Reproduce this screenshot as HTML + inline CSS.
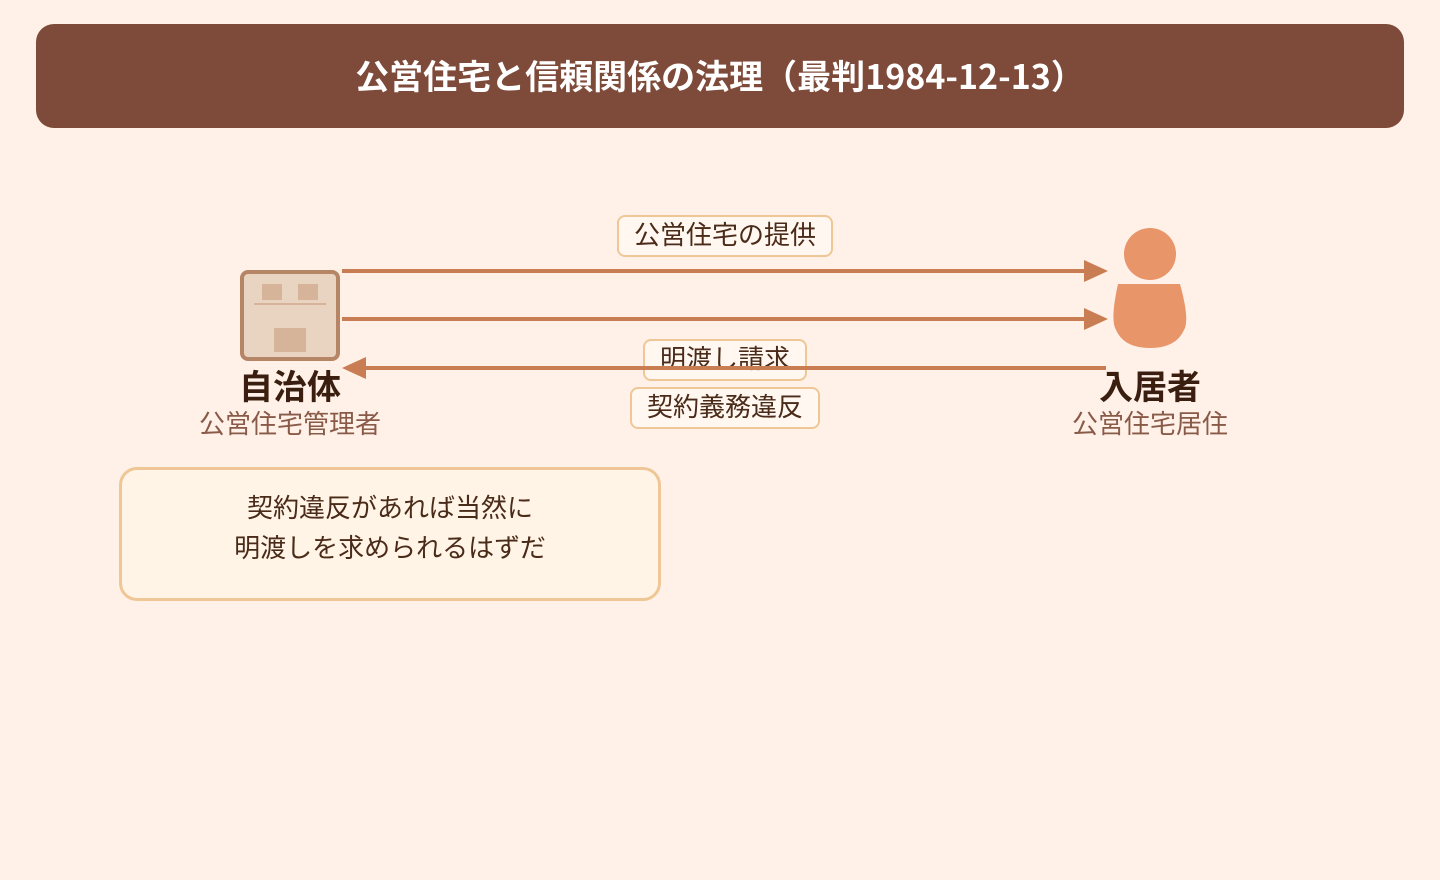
<!DOCTYPE html>
<html><head><meta charset="utf-8"><style>
body{margin:0;width:1440px;height:880px;background:#fff1e8;font-family:"Liberation Sans","Noto Sans CJK JP",sans-serif;position:relative;overflow:hidden}
.a{position:absolute}
.lbl{position:absolute;background:#fff7f0;border:2px solid #efc797;border-radius:8px;font-size:26px;color:#4a2a18;text-align:center;box-sizing:border-box;line-height:36px}
</style></head><body>
<div class="a" style="left:36px;top:24px;width:1368px;height:104px;background:#7e4a39;border-radius:18px;color:#fff;font-size:34px;font-weight:bold;text-align:center;line-height:102px;font-family:'Noto Sans CJK JP',sans-serif">公営住宅と信頼関係の法理（最判1984-12-13）</div>
<svg class="a" style="left:0;top:0" width="1440" height="880">
<rect x="242" y="272" width="96" height="87" rx="6" fill="#e8d4c0" stroke="#b58566" stroke-width="4"/>
<rect x="262" y="284" width="20" height="16" fill="#d5b49a"/><rect x="298" y="284" width="20" height="16" fill="#d5b49a"/>
<line x1="254" y1="304" x2="326" y2="304" stroke="#d5b49a" stroke-width="2"/>
<rect x="274" y="328" width="32" height="24" fill="#d5b49a"/>
<g stroke="#c87d52" stroke-width="4" fill="#c87d52">
<line x1="342" y1="271" x2="1090" y2="271"/><polygon points="1084,260 1108,271 1084,282" stroke="none"/>
<line x1="342" y1="319" x2="1090" y2="319"/><polygon points="1084,308 1108,319 1084,330" stroke="none"/>
</g>
<circle cx="1150" cy="254" r="26" fill="#e8956a"/>
<path d="M1118 284 H1180 Q1190 320 1184 330 Q1176 348 1150 348 Q1124 348 1116 330 Q1110 320 1118 284Z" fill="#e8956a"/>
</svg>
<div class="lbl" style="left:617px;top:215px;width:216px;height:42px">公営住宅の提供</div>
<div class="lbl" style="left:643px;top:339px;width:164px;height:42px">明渡し請求</div>
<svg class="a" style="left:0;top:0" width="1440" height="880">
<line x1="360" y1="368" x2="1106" y2="368" stroke="#c87d52" stroke-width="4"/><polygon points="342,368 366,357 366,379" fill="#c87d52"/>
</svg>
<div class="lbl" style="left:630px;top:387px;width:190px;height:42px">契約義務違反</div>
<div class="a" style="left:190px;top:360px;width:200px;text-align:center;font-size:34px;font-weight:bold;color:#3a1f10">自治体</div>
<div class="a" style="left:170px;top:404px;width:240px;text-align:center;font-size:26px;color:#8a5a48">公営住宅管理者</div>
<div class="a" style="left:1050px;top:360px;width:200px;text-align:center;font-size:34px;font-weight:bold;color:#3a1f10">入居者</div>
<div class="a" style="left:1030px;top:404px;width:240px;text-align:center;font-size:26px;color:#8a5a48">公営住宅居住</div>
<div class="a" style="left:119px;top:467px;width:542px;height:134px;box-sizing:border-box;border:3px solid #efc797;border-radius:18px;background:#fff4e6;text-align:center;font-size:26px;color:#4a2a18;line-height:40px;padding-top:18px">契約違反があれば当然に<br>明渡しを求められるはずだ</div>
</body></html>
